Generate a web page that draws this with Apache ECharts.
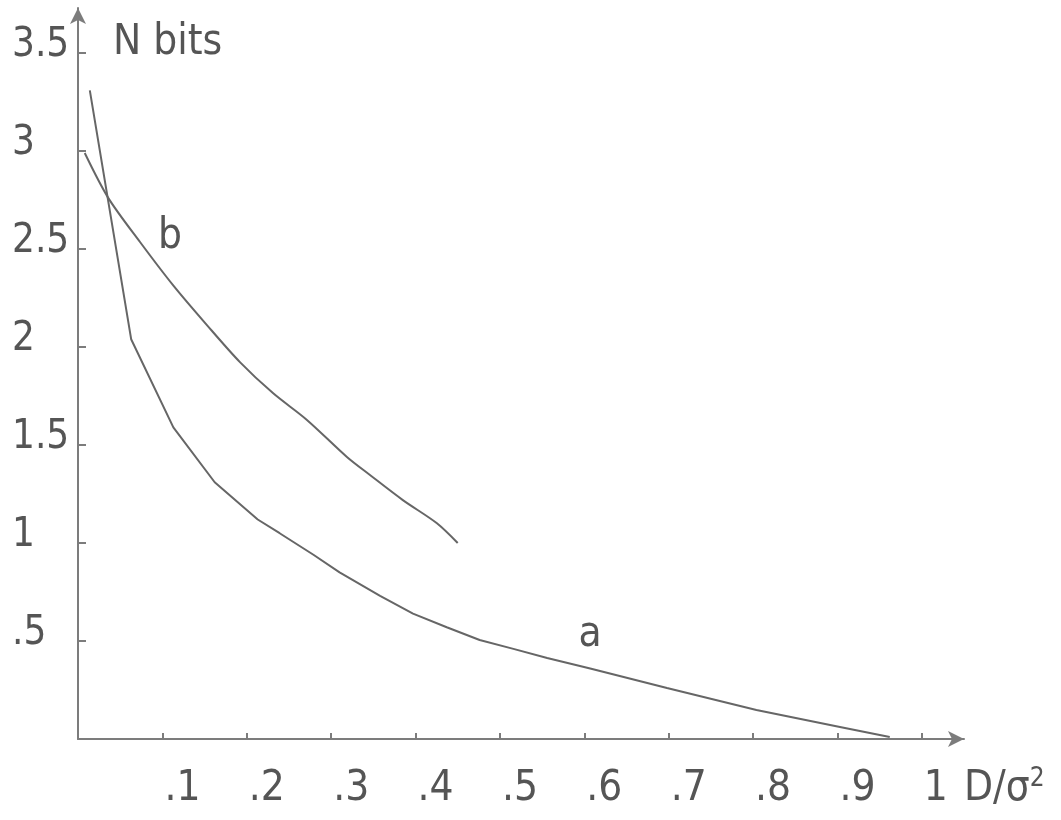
<!DOCTYPE html>
<html>
<head>
<meta charset="utf-8">
<script src="https://cdn.jsdelivr.net/npm/echarts@6/dist/echarts.min.js"></script>
<style>html,body{margin:0;padding:0;background:#fff}#c{width:1061px;height:820px}</style>
</head>
<body>
<div id="c"></div>
<script>
// D/sigma^2 vs N bits
const curveA = [[0.014,3.31],[0.063,2.04],[0.113,1.59],[0.162,1.31],[0.213,1.12],[0.239,1.05],[0.279,0.94],[0.310,0.85],[0.358,0.73],[0.397,0.64],[0.437,0.57],[0.476,0.505],[0.516,0.46],[0.556,0.413],[0.607,0.36],[0.698,0.26],[0.804,0.148],[0.903,0.061],[0.962,0.010]];
const curveB = [[0.008,2.99],[0.036,2.76],[0.0735,2.536],[0.1126,2.316],[0.1528,2.112],[0.1919,1.923],[0.231,1.765],[0.2713,1.628],[0.3187,1.439],[0.346,1.347],[0.385,1.219],[0.425,1.102],[0.450,1.00]];
const xTicks = [0.1,0.2,0.3,0.4,0.5,0.6,0.7,0.8,0.9,1.0];
const xTickLabels = ['.1','.2','.3','.4','.5','.6','.7','.8','.9','1'];
const yTicks = [0.5,1,1.5,2,2.5,3,3.5];
const yTickLabels = ['.5','1','1.5','2','2.5','3','3.5'];
const labelA = {name:'a', coord:[0.607,0.53]};
const labelB = {name:'b', coord:[0.109,2.56]};

const FONT = '"Liberation Sans Narrow","DejaVu Sans Condensed",sans-serif';
const TXT = '#555';
const AX = '#7c7c7c';
const LN = '#666';

const chart = echarts.init(document.getElementById('c'), null, {renderer:'canvas'});
chart.setOption({
  animation:false,
  backgroundColor:'#fff',
  grid:{left:78, right:97, top:8, bottom:81, containLabel:false},
  xAxis:{
    type:'value', min:0, max:1.05,
    axisLine:{show:true, lineStyle:{color:AX,width:2}, symbol:['none','arrow'], symbolSize:[12,16]},
    axisTick:{show:true, inside:true, length:6, lineStyle:{color:AX,width:2}, customValues:xTicks},
    axisLabel:{show:true, customValues:xTicks, align:'left', verticalAlign:'middle', margin:50, padding:[0,0,0,2],
      fontFamily:FONT, fontSize:42, color:TXT,
      formatter:function(v){const i=xTicks.findIndex(t=>Math.abs(t-v)<1e-6);return i>=0?xTickLabels[i]:'';}},
    splitLine:{show:false},
    name:'D/σ{sup|2}', nameLocation:'end', nameGap:0,
    nameTextStyle:{fontFamily:FONT, fontSize:42, color:TXT, align:'left', verticalAlign:'middle', padding:[100,0,0,0],
      rich:{sup:{fontFamily:FONT, fontSize:26, color:TXT, verticalAlign:'top', padding:[0,0,20,0]}}}
  },
  yAxis:{
    type:'value', min:0, max:3.73,
    axisLine:{show:true, lineStyle:{color:AX,width:2}, symbol:['none','arrow'], symbolSize:[12,16]},
    axisTick:{show:true, inside:true, length:8, lineStyle:{color:AX,width:2}, customValues:yTicks},
    axisLabel:{show:true, customValues:yTicks, align:'left', verticalAlign:'bottom', lineHeight:14, margin:66,
      fontFamily:FONT, fontSize:40, color:TXT,
      formatter:function(v){const i=yTicks.findIndex(t=>Math.abs(t-v)<1e-6);return i>=0?yTickLabels[i]:'';}},
    splitLine:{show:false},
    name:'N bits', nameLocation:'end', nameGap:-35,
    nameTextStyle:{fontFamily:FONT, fontSize:42, color:TXT, align:'left', verticalAlign:'middle', padding:[0,0,0,35]}
  },
  series:[
    {type:'line', name:'a', data:curveA, showSymbol:false, smooth:false,
     lineStyle:{color:LN, width:2},
     markPoint:{symbol:'circle', symbolSize:1, itemStyle:{color:'rgba(0,0,0,0)'},
       label:{show:true, position:'inside', formatter:'{b}', fontFamily:FONT, fontSize:42, color:TXT},
       data:[labelA]}},
    {type:'line', name:'b', data:curveB, showSymbol:false, smooth:0.3,
     lineStyle:{color:LN, width:2},
     markPoint:{symbol:'circle', symbolSize:1, itemStyle:{color:'rgba(0,0,0,0)'},
       label:{show:true, position:'inside', formatter:'{b}', fontFamily:FONT, fontSize:42, color:TXT},
       data:[labelB]}}
  ]
});
</script>
</body>
</html>
